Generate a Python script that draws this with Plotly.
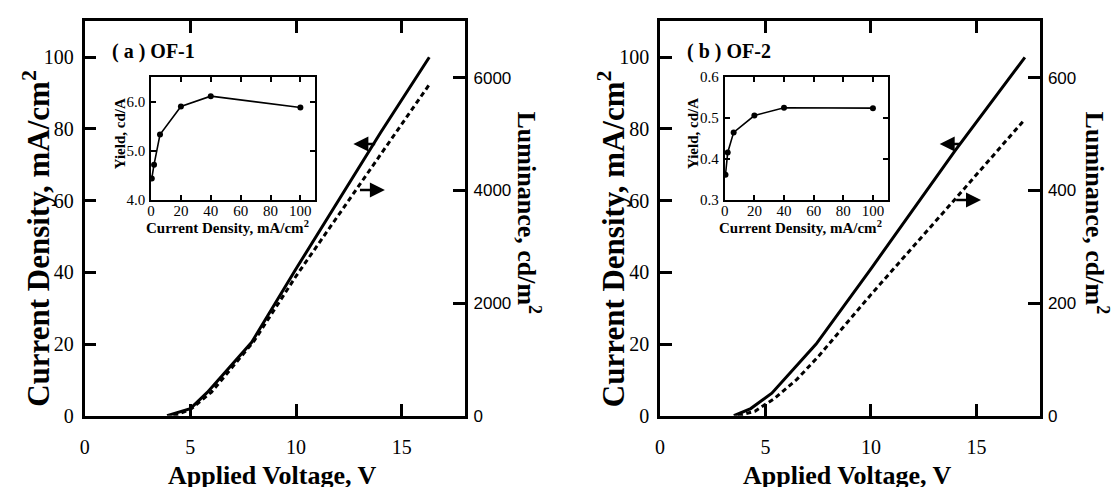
import plotly.graph_objects as go

W, H = 1115, 487

# ---- OF-1 : current density / luminance vs. applied voltage ----
of1_volt_j = [3.9, 5.0, 5.8, 7.9, 10.0, 12.0, 14.0, 16.3]
of1_current = [0, 2, 6.5, 20.5, 41, 60, 79, 100]
of1_volt_l = [4.2, 5.0, 6.0, 8.0, 10.0, 12.0, 14.0, 16.3]
of1_lum = [0, 110, 420, 1320, 2480, 3560, 4650, 5880]

# ---- OF-2 ----
of2_volt_j = [3.5, 4.3, 5.3, 7.4, 10.0, 12.0, 14.0, 17.3]
of2_current = [0, 2, 6.3, 20, 41, 57.5, 74, 100]
of2_volt_l = [3.7, 4.5, 5.4, 6.5, 7.5, 10.0, 14.0, 17.2]
of2_lum = [0, 8, 30, 65, 105, 215, 385, 522]

# ---- insets: luminous yield vs. current density ----
inset_current = [0.5, 2, 6, 20, 40, 100]
of1_yield = [4.44, 4.72, 5.33, 5.90, 6.11, 5.88]
of2_yield = [0.362, 0.416, 0.465, 0.506, 0.525, 0.524]

x_ticks = [0, 5, 10, 15]
j_ticks = [0, 20, 40, 60, 80, 100]
of1_lum_ticks = [0, 2000, 4000, 6000]
of2_lum_ticks = [0, 200, 400, 600]
inset_x_ticks = [0, 20, 40, 60, 80, 100]
of1_yield_ticks = [4.0, 5.0, 6.0]
of2_yield_ticks = [0.3, 0.4, 0.5, 0.6]

panel_labels = ["( a ) OF-1", "( b ) OF-2"]

# arrow positions (volts, mA/cm2): tip then tail
of1_arrows = [((12.71, 75.8), (13.81, 75.8)), ((14.2, 63.0), (12.95, 63.0))]
of2_arrows = [((13.26, 75.8), (14.28, 75.8)), ((15.22, 60.2), (13.97, 60.2))]

SERIF = "Liberation Serif"
SANS = "Liberation Sans"


def px(x):
    return x / W


def py(y):
    return 1 - y / H


fig = go.Figure()

solid = dict(color="black", width=3)
dashed = dict(color="black", width=3, dash="5px,3.5px")

fig.add_trace(go.Scatter(x=of1_volt_j, y=of1_current, mode="lines", line=solid,
                         xaxis="x", yaxis="y"))
fig.add_trace(go.Scatter(x=of1_volt_l, y=of1_lum, mode="lines", line=dashed,
                         xaxis="x", yaxis="y2"))
fig.add_trace(go.Scatter(x=of2_volt_j, y=of2_current, mode="lines", line=solid,
                         xaxis="x2", yaxis="y3"))
fig.add_trace(go.Scatter(x=of2_volt_l, y=of2_lum, mode="lines", line=dashed,
                         xaxis="x2", yaxis="y4"))

inset_style = dict(mode="lines+markers", line=dict(color="black", width=1.6),
                   marker=dict(color="black", size=6))
fig.add_trace(go.Scatter(x=inset_current, y=of1_yield, xaxis="x3", yaxis="y5",
                         **inset_style))
fig.add_trace(go.Scatter(x=inset_current, y=of2_yield, xaxis="x4", yaxis="y6",
                         **inset_style))

main_y_dom = [py(424.3), py(14)]
left_x_dom = [px(80), px(462.3)]
right_x_dom = [px(658), px(1039.3)]
inset_y_dom = [py(200), py(71.7)]
left_inset_dom = [px(146.7), px(311.7)]
right_inset_dom = [px(723), px(886.7)]

axis_common = dict(showgrid=False, zeroline=False, showline=True, linecolor="black",
                   linewidth=2.7, ticks="inside", ticklen=12, tickwidth=2.5,
                   tickcolor="black")


def main_x(domain, anchor):
    return dict(axis_common, domain=domain, anchor=anchor, range=[0, 18],
                tickvals=x_ticks, mirror="ticks",
                tickfont=dict(family=SERIF, size=20, color="black"),
                ticklabelstandoff=11)


def main_j(domain_x_anchor):
    return dict(axis_common, domain=main_y_dom, anchor=domain_x_anchor,
                range=[0, 110], tickvals=j_ticks,
                tickfont=dict(family=SERIF, size=20, color="black"),
                ticklabelstandoff=4)


def main_l(anchor, overlay, rng, ticks):
    return dict(axis_common, anchor=anchor, overlaying=overlay, side="right",
                range=rng, tickvals=ticks,
                tickfont=dict(family=SANS, size=17, color="black"),
                ticklabelstandoff=2)


inset_common = dict(showgrid=False, zeroline=False, showline=True, linecolor="black",
                    linewidth=1.8, ticks="inside", ticklen=5, tickwidth=1.5,
                    tickcolor="black", mirror="ticks",
                    tickfont=dict(family=SERIF, size=15, color="black"))

fig.update_layout(
    width=W, height=H,
    margin=dict(l=0, r=0, t=0, b=0),
    paper_bgcolor="white", plot_bgcolor="white",
    showlegend=False,
    xaxis=main_x(left_x_dom, "y"),
    yaxis=main_j("x"),
    yaxis2=main_l("x", "y", [0, 7000], of1_lum_ticks),
    xaxis2=main_x(right_x_dom, "y3"),
    yaxis3=main_j("x2"),
    yaxis4=main_l("x2", "y3", [0, 700], of2_lum_ticks),
    xaxis3=dict(inset_common, domain=left_inset_dom, anchor="y5", range=[0, 110],
                tickvals=inset_x_ticks, ticklabelstandoff=-4),
    yaxis5=dict(inset_common, domain=inset_y_dom, anchor="x3", range=[4.0, 6.5],
                tickvals=of1_yield_ticks, tickformat=".1f", ticklabelstandoff=1),
    xaxis4=dict(inset_common, domain=right_inset_dom, anchor="y6", range=[0, 110],
                tickvals=inset_x_ticks, ticklabelstandoff=-4),
    yaxis6=dict(inset_common, domain=inset_y_dom, anchor="x4", range=[0.3, 0.6],
                tickvals=of2_yield_ticks, tickformat=".1f", ticklabelstandoff=1),
)

annotations = []


def text(x, y, s, size, angle=0, family=SERIF, xanchor="center"):
    annotations.append(dict(x=px(x), y=py(y), xref="paper", yref="paper", text=s,
                            showarrow=False, textangle=angle, xanchor=xanchor,
                            yanchor="middle",
                            font=dict(family=family, size=size, color="black")))


for dx, label in zip([0, 578], panel_labels):
    text(105 + dx, 45, "<b>%s</b>" % label, 20, xanchor="left")
    text(268.3 + dx, 486, "<b>Applied Voltage, V</b>", 26)
    text(31.3 + dx, 240, "<b>Current Density, mA/cm<sup>2</sup></b>", 31, angle=-90)

text(526, 213.5, "<b>Luminance, cd/m<sup>2</sup></b>", 26, angle=90)
text(1096.5, 213.5, "<b>Luminance, cd/m<sup>2</sup></b>", 26, angle=90)

for dx in [0, 576.3]:
    text(223 + dx, 227.5, "<b>Current Density, mA/cm<sup>2</sup></b>", 15)
    text(115 + dx, 131, "<b>Yield, cd/A</b>", 15, angle=-90)

for arrows, xr, yr in [(of1_arrows, "x", "y"), (of2_arrows, "x2", "y3")]:
    for (tip, tail) in arrows:
        annotations.append(dict(x=tip[0], y=tip[1], ax=tail[0], ay=tail[1],
                                xref=xr, yref=yr, axref=xr, ayref=yr, text="",
                                showarrow=True, arrowhead=2, arrowsize=1.2,
                                arrowwidth=2.5, arrowcolor="black", standoff=0))

fig.update_layout(annotations=annotations)

fig.write_html("out.html")
